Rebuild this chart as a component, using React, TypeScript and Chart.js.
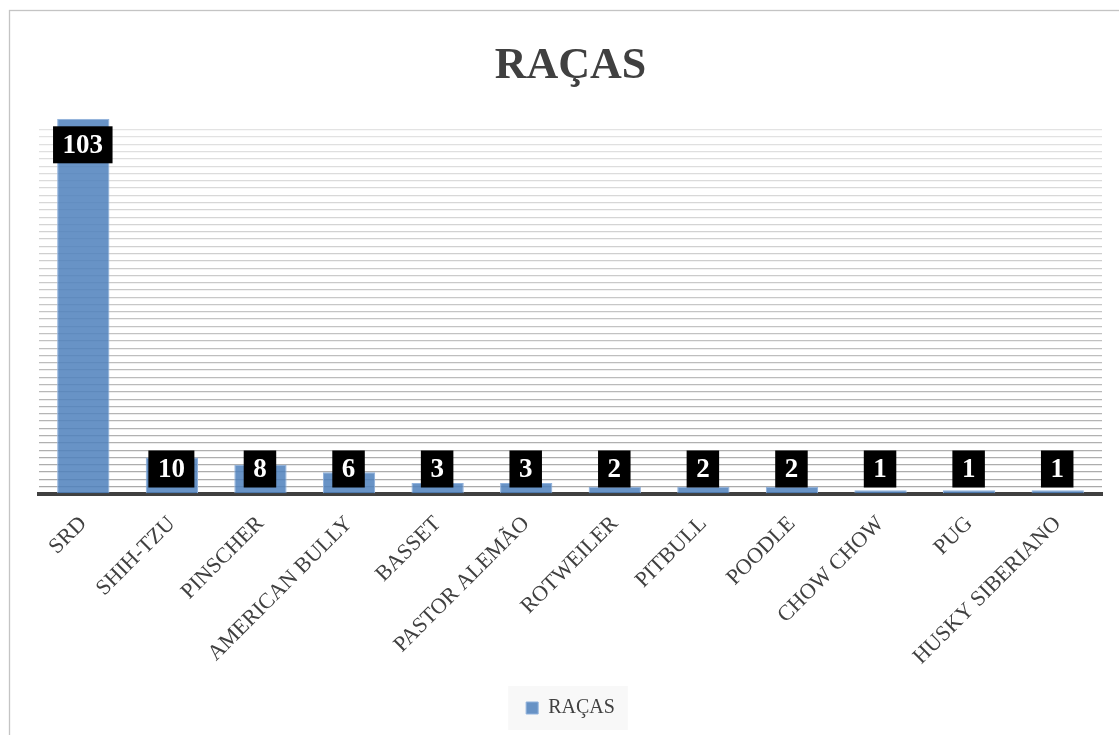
import React, { useEffect, useRef } from "react";
import { Chart, registerables } from "chart.js";

Chart.register(...registerables);

const categories = [
  "SRD",
  "SHIH-TZU",
  "PINSCHER",
  "AMERICAN BULLY",
  "BASSET",
  "PASTOR ALEMÃO",
  "ROTWEILER",
  "PITBULL",
  "POODLE",
  "CHOW CHOW",
  "PUG",
  "HUSKY SIBERIANO",
];
const values = [103, 10, 8, 6, 3, 3, 2, 2, 2, 1, 1, 1];
const seriesName = "RAÇAS";
const chartTitle = "RAÇAS";
const yMin = 0;
const yMax = 103;
const yStep = 2;
const yGridTop = 102;

const SERIF = "'Liberation Serif', 'DejaVu Serif', serif";

const framePlugin = {
  id: "frame",
  beforeDraw(chart: any) {
    const ctx = chart.ctx;
    ctx.save();
    ctx.fillStyle = "#ffffff";
    ctx.fillRect(0, 0, chart.width, chart.height);
    ctx.strokeStyle = "#c4c4c4";
    ctx.lineWidth = 1.3;
    ctx.strokeRect(9.5, 10.5, chart.width + 50, chart.height + 50);
    const lg = chart.legend;
    if (lg && lg.legendHitBoxes && lg.legendHitBoxes.length) {
      const hb = lg.legendHitBoxes[0];
      const cy = hb.top + hb.height / 2;
      ctx.fillStyle = "#f8f8f8";
      ctx.fillRect(hb.left - 18, cy - 22, hb.width + 31, 44);
    }
    ctx.restore();
  },
};

const labelPlugin = {
  id: "boxLabels",
  afterDatasetsDraw(chart: any) {
    const ctx = chart.ctx;
    const meta = chart.getDatasetMeta(0);
    const area = chart.chartArea;
    ctx.save();
    ctx.font = `bold 27px ${SERIF}`;
    ctx.textAlign = "center";
    ctx.textBaseline = "middle";
    meta.data.forEach((bar: any, i: number) => {
      const txt = String(chart.data.datasets[0].data[i]);
      const w = ctx.measureText(txt).width + 19;
      const h = 37;
      const cy = Math.min(bar.y + 26, area.bottom - 25);
      const cx = bar.x - 0.5;
      ctx.fillStyle = "#000000";
      ctx.fillRect(cx - w / 2, cy - h / 2, w, h);
      ctx.fillStyle = "#ffffff";
      ctx.fillText(txt, cx, cy + 1);
    });
    ctx.restore();
  },
};

export default function App() {
  const ref = useRef<HTMLCanvasElement | null>(null);

  useEffect(() => {
    if (!ref.current) return;
    const chart = new Chart(ref.current, {
      type: "bar",
      data: {
        labels: categories,
        datasets: [
          {
            label: seriesName,
            data: values,
            backgroundColor: "rgba(79,129,189,0.86)",
            borderColor: "#8fb1dc",
            borderWidth: 1,
            categoryPercentage: 1,
            barPercentage: 0.59,
          },
        ],
      },
      options: {
        responsive: false,
        animation: false,
        layout: { padding: { left: 39, right: 17, top: 0, bottom: 7 } },
        plugins: {
          title: {
            display: true,
            text: chartTitle,
            color: "#404040",
            font: { family: SERIF, size: 44, weight: "bold" },
            padding: { top: 40, bottom: 26 },
          },
          legend: {
            display: true,
            position: "bottom",
            labels: {
              color: "#404040",
              font: { family: SERIF, size: 20 },
              boxWidth: 12,
              boxHeight: 12,
              padding: 10,
            },
          },
          tooltip: { enabled: false },
        },
        scales: {
          x: {
            z: 1,
            grid: { display: false },
            border: { display: true, color: "#404040", width: 4 },
            ticks: {
              color: "#404040",
              font: { family: SERIF, size: 22 },
              minRotation: 45,
              maxRotation: 45,
              padding: 9,
            },
            afterFit: (s: any) => {
              s.height = 194;
            },
          },
          y: {
            min: yMin,
            max: yMax,
            grid: {
              drawTicks: false,
              lineWidth: 1.3,
              color: (c: any) => {
                const v = c.tick ? c.tick.value : 0;
                if (v > yGridTop || v <= 0) return "rgba(0,0,0,0)";
                const t = v / yGridTop;
                const g = Math.round(168 + t * 60);
                return `rgb(${g},${g},${g})`;
              },
            },
            border: { display: false },
            ticks: { display: false, stepSize: yStep },
            afterFit: (s: any) => {
              s.width = 0;
            },
          },
        },
      },
      plugins: [framePlugin, labelPlugin],
    } as any);
    return () => chart.destroy();
  }, []);

  return (
    <div style={{ position: "fixed", left: 0, top: 0, width: 1119, height: 735, background: "#fff" }}>
      <canvas ref={ref} width={1119} height={735} style={{ display: "block" }} />
    </div>
  );
}
